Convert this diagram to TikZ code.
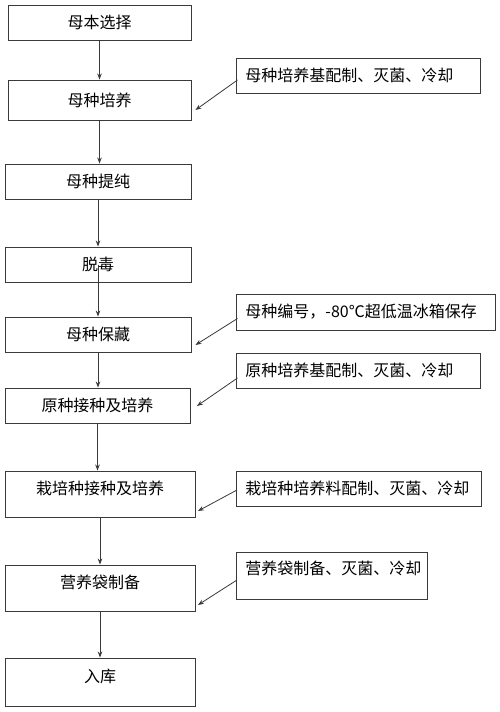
\documentclass[tikz,border=0pt]{standalone}
\usepackage{fontspec}
\newfontfamily\cjk{Noto Sans CJK SC}
\usetikzlibrary{arrows.meta}
\definecolor{ln}{HTML}{3A3A3A}
\tikzset{
  lbox/.style={draw=ln, line width=0.9pt, inner sep=0pt, font=\cjk\fontsize{16}{18}\selectfont, text=black},
  tallbox/.style={lbox, text height=23pt, text depth=23pt},
  rbox/.style={draw=ln, line width=0.9pt, inner ysep=0pt, inner xsep=9pt, anchor=west, align=left, font=\cjk\fontsize{16}{20}\selectfont, text=black},
  arr/.style={draw=ln, line width=0.8pt, -{Stealth[length=6pt,width=4.5pt]}}
}
\begin{document}
\begin{tikzpicture}[x=1pt,y=-1pt]
\fill[white] (0,0) rectangle (500,712);
\useasboundingbox (0,0) rectangle (500,712);
% left boxes
\node[lbox, minimum width=183, minimum height=35] (b1) at (99.5,22.5) {母本选择};
\node[lbox, minimum width=183, minimum height=40] (b2) at (99.5,100) {母种培养};
\node[lbox, minimum width=186, minimum height=35] (b3) at (98,181.5) {母种提纯};
\node[lbox, minimum width=186, minimum height=35] (b4) at (98,264.5) {脱毒};
\node[lbox, minimum width=186, minimum height=35] (b5) at (98,334.5) {母种保藏};
\node[lbox, minimum width=185, minimum height=35] (b6) at (97.5,405.5) {原种接种及培养};
\node[tallbox, minimum width=190, minimum height=46] (b7) at (100,494) {栽培种接种及培养};
\node[tallbox, minimum width=190, minimum height=46] (b8) at (100,588) {营养袋制备};
\node[lbox, minimum width=190, minimum height=48, text height=24pt, text depth=24pt] (b9) at (100,682) {入库};
% right boxes
\node[rbox, text width=226pt, minimum height=35] (r1) at (236,75.5) {\mbox{母种培养基配制、灭菌、冷却}};
\node[rbox, text width=241pt, minimum height=36] (r2) at (236,312) {\mbox{母种编号，-80℃超低温冰箱保存}};
\node[rbox, text width=226pt, minimum height=35] (r3) at (236,370.5) {\mbox{原种培养基配制、灭菌、冷却}};
\node[rbox, text width=227pt, minimum height=35] (r4) at (236,488.5) {\mbox{栽培种培养料配制、灭菌、冷却}};
\node[rbox, text width=173pt, minimum height=47, text height=22pt, text depth=25pt] (r5) at (236,575.5) {\mbox{营养袋制备、灭菌、冷却}};
% vertical flow
\draw[arr] (b1.south) -- (b1.south |- b2.north);
\draw[arr] (b2.south) -- (b2.south |- b3.north);
\draw[arr] (b3.south) -- (b3.south |- b4.north);
\draw[arr] (b4.center) -- (b4.center |- b5.north);
\draw[arr] (b5.south) -- (b5.south |- b6.north);
\draw[arr] (b6.south) -- (b6.south |- b7.north);
\draw[arr] (b7.south) -- (b7.south |- b8.north);
\draw[arr] (b8.south) -- (b8.south |- b9.north);
% side inputs
\draw[arr] ([xshift=1.5pt,yshift=-4.5pt]r1.west) -- ([xshift=4pt,yshift=-10pt]b2.east);
\draw[arr] ([xshift=1.5pt,yshift=-6.5pt]r2.west) -- ([xshift=4pt,yshift=-10.5pt]b5.east);
\draw[arr] ([xshift=1.5pt,yshift=-7.5pt]r3.west) -- ([xshift=6.5pt,yshift=-0.5pt]b6.east);
\draw[arr] ([xshift=1pt,yshift=-1.5pt]r4.west) -- ([xshift=2.5pt,yshift=-17pt]b7.east);
\draw[arr] ([xshift=1pt,yshift=-4.5pt]r5.west) -- ([xshift=2.5pt,yshift=-17pt]b8.east);
\end{tikzpicture}
\end{document}
